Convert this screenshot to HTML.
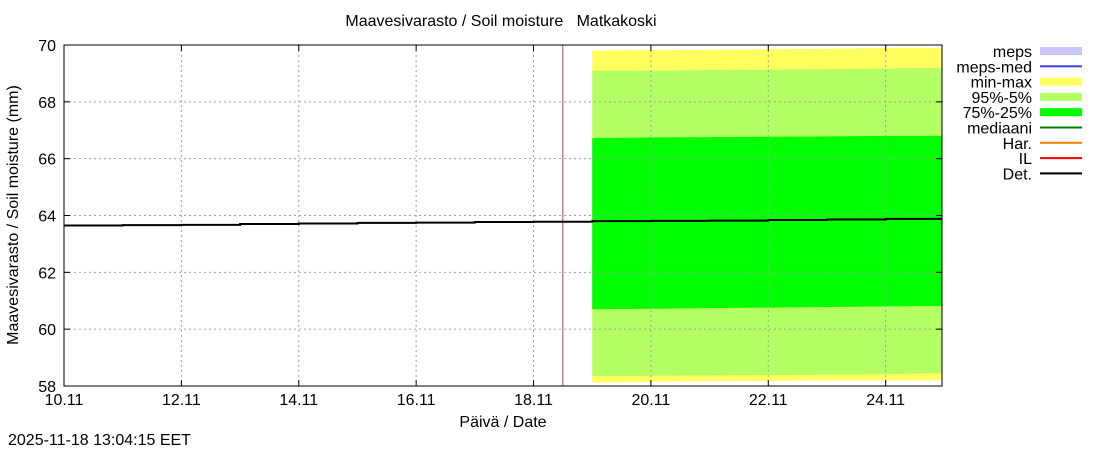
<!DOCTYPE html>
<html><head><meta charset="utf-8"><style>
body{margin:0;background:#fff;}
svg{display:block;font-family:"Liberation Sans",sans-serif;}
</style></head><body>
<svg id="c" width="1100" height="450" xmlns="http://www.w3.org/2000/svg"><defs><clipPath id="pc"><rect x="64" y="45" width="878" height="341"/></clipPath></defs></svg>
<script>
const xTickLabels=["10.11","12.11","14.11","16.11","18.11","20.11","22.11","24.11"];
const xTickDays=[0,2,4,6,8,10,12,14];
const yTicks=[58,60,62,64,66,68,70];
const fcDays=[9,10,11,12,13,14,15];
const maxV=[69.8,69.82,69.83,69.85,69.87,69.9,69.9];
const p95=[69.1,69.1,69.12,69.13,69.15,69.17,69.2];
const p75=[66.72,66.75,66.76,66.77,66.78,66.8,66.8];
const p25=[60.7,60.72,60.74,60.76,60.78,60.8,60.82];
const p5=[58.35,58.36,58.37,58.38,58.4,58.42,58.45];
const minV=[58.12,58.15,58.17,58.18,58.2,58.2,58.2];
const detDays=[0,1,2,3,4,5,6,7,8,9,10,11,12,13,14,15];
const detV=[63.65,63.66,63.67,63.7,63.72,63.74,63.75,63.77,63.78,63.8,63.81,63.82,63.84,63.86,63.88,63.9];
const nowDay=8.5;
const legendNames=["meps","meps-med","min-max","95%-5%","75%-25%","mediaani","Har.","IL","Det."];
const legendColors=["#c8c8f8","#4040e0","#ffff60","#b4ff64","#00ff00","#008000","#ff8000","#ff0000","#000000"];

const X0=64,X1=942,Y0=386,Y1=45,DMAX=14.96;
const xs=d=>X0+d*(X1-X0)/DMAX;
const ys=v=>Y0-(v-58)*(Y0-Y1)/12;
const svg=document.getElementById('c');
const NS="http://www.w3.org/2000/svg";
function mk(tag,attrs,parent){const e=document.createElementNS(NS,tag);for(const k in attrs)e.setAttribute(k,attrs[k]);(parent||svg).appendChild(e);return e;}
function txt(s,attrs){const e=mk('text',attrs);e.textContent=s;return e;}
function band(lo,hi,color,name){
  let pts=fcDays.map((d,i)=>xs(d)+','+ys(hi[i]));
  pts=pts.concat(fcDays.map((d,i)=>xs(d)+','+ys(lo[i])).reverse());
  const p=mk('polygon',{points:pts.join(' '),fill:color,'clip-path':'url(#pc)'});
  
  
}
band(minV,maxV,'#ffff60','band-min-max');
band(p5,p95,'#b4ff64','band-95-5');
band(p25,p75,'#00ff00','band-75-25');
xTickDays.forEach((d,i)=>{
  const g=mk('line',{x1:xs(d),x2:xs(d),y1:Y1,y2:Y0,stroke:'#a0a0a0','stroke-dasharray':'2,3'});
  
  mk('line',{x1:xs(d),x2:xs(d),y1:Y0,y2:Y0-6,stroke:'#000'});
  mk('line',{x1:xs(d),x2:xs(d),y1:Y1,y2:Y1+6,stroke:'#000'});
  const t=txt(xTickLabels[i],{x:xs(d),y:405,'font-size':16,'text-anchor':'middle'});
  
});
yTicks.forEach(v=>{
  const g=mk('line',{x1:X0,x2:X1,y1:ys(v),y2:ys(v),stroke:'#a0a0a0','stroke-dasharray':'2,3'});
  
  mk('line',{x1:X0,x2:X0+6,y1:ys(v),y2:ys(v),stroke:'#000'});
  mk('line',{x1:X1,x2:X1-6,y1:ys(v),y2:ys(v),stroke:'#000'});
  const t=txt(String(v),{x:56,y:ys(v)+6,'font-size':16,'text-anchor':'end'});
  
});
const nl=mk('line',{x1:xs(nowDay),x2:xs(nowDay),y1:Y1,y2:Y0,stroke:'#901818','stroke-width':0.8});

let d='';
detDays.forEach((dd,i)=>{const x=xs(dd),y=ys(detV[i]);if(i==0)d='M'+x+','+y;else d+=' H'+x+' V'+y;});
const dl=mk('path',{d:d,fill:'none',stroke:'#000','stroke-width':2,'clip-path':'url(#pc)'});

const fr=mk('rect',{x:X0,y:Y1,width:X1-X0,height:Y0-Y1,fill:'none',stroke:'#000'});

let t=txt('Maavesivarasto / Soil moisture   Matkakoski',{x:501,y:26,'font-size':16,'text-anchor':'middle'});

t.setAttribute('style','white-space:pre');
t=txt('Päivä / Date',{x:503,y:427,'font-size':16,'text-anchor':'middle'});

t=txt('Maavesivarasto / Soil moisture (mm)',{x:18,y:215,'font-size':16,'text-anchor':'middle',transform:'rotate(-90 18 215)'});

t=txt('2025-11-18 13:04:15 EET',{x:8,y:445,'font-size':16});

legendNames.forEach((n,i)=>{
  const y=51+i*15.3;
  const g=mk('g',{});
  
  const tt=mk('text',{x:1032,y:y+6,'font-size':16,'text-anchor':'end'},g);tt.textContent=n;
  const wide=i==0||i==2||i==3||i==4;
  mk('rect',{x:1040,y:wide?y-4:y-1,width:42,height:wide?8:2,fill:legendColors[i]},g);
});
</script>
</body></html>
